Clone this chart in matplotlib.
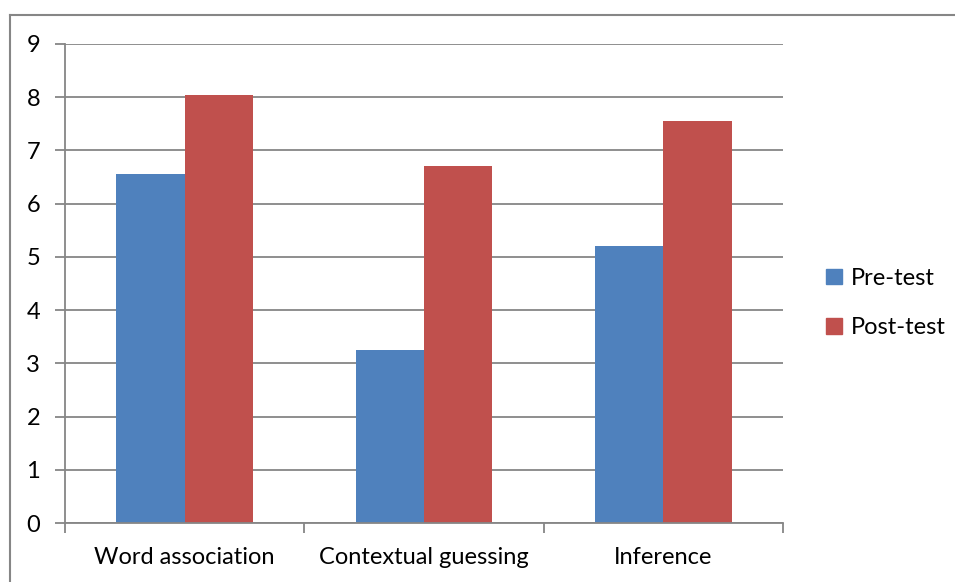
import numpy as np
import matplotlib.pyplot as plt
from matplotlib.lines import Line2D
from matplotlib.patches import Patch

categories = ['Word association', 'Contextual guessing', 'Inference']
pre_test = [6.55, 3.25, 5.2]
post_test = [8.05, 6.7, 7.55]

plt.rcParams['font.family'] = ['Lato', 'DejaVu Sans']

blue = '#4f81bd'
red = '#c0504d'
grey = '#868686'

fig = plt.figure(figsize=(9.55, 5.82), dpi=100)
ax = fig.add_axes([65/955, 1 - 523/582, (783 - 65)/955, (523 - 44)/582])

x = np.arange(len(categories))
w = 1 / 3.5
ax.bar(x - w/2, pre_test, w, color=blue, label='Pre-test', zorder=2)
ax.bar(x + w/2, post_test, w, color=red, label='Post-test', zorder=2)

ax.set_xlim(-0.5, 2.5)
ax.set_ylim(0, 9)
ax.set_yticks(range(10))
ax.yaxis.grid(True, color=grey, linewidth=1.3, zorder=0)

# category boundaries get the tick marks, labels sit in the middle
ax.set_xticks([-0.5, 0.5, 1.5, 2.5])
ax.set_xticklabels([])
ax.set_xticks(x, minor=True)
ax.set_xticklabels(categories, minor=True, fontsize=17)
ax.tick_params(axis='x', which='minor', length=0, pad=17)
ax.tick_params(axis='x', which='major', length=7, color=grey, width=1.3)
ax.tick_params(axis='y', length=7, color=grey, width=1.3, labelsize=17, pad=11)

for side in ['top', 'right']:
    ax.spines[side].set_visible(False)
for side in ['left', 'bottom']:
    ax.spines[side].set_color(grey)
    ax.spines[side].set_linewidth(1.3)

handles = [Patch(color=blue), Patch(color=red)]
fig.legend(handles, ['Pre-test', 'Post-test'], loc='center left',
           bbox_to_anchor=(805/955, 1 - 303/582), frameon=False, fontsize=17,
           handlelength=0.65, handleheight=0.65, handletextpad=0.4, labelspacing=1.2)

# outer chart-area border
fig.add_artist(Line2D([10/955, 10/955], [0, 1 - 15/582], color=grey, lw=1.5))
fig.add_artist(Line2D([10/955, 1], [1 - 15/582, 1 - 15/582], color=grey, lw=1.5))

fig.savefig('out.png', dpi=100)
